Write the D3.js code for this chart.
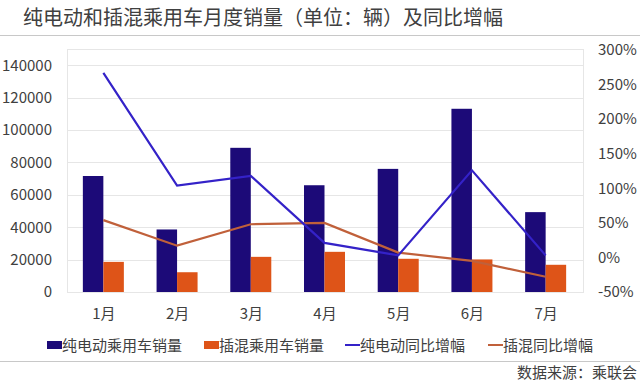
<!DOCTYPE html>
<html>
<head>
<meta charset="utf-8">
<script src="https://cdn.jsdelivr.net/npm/d3@7"></script>
<style>
  html, body { margin: 0; padding: 0; background: #fff; }
  text { font-family: "Noto Sans CJK SC", "Noto Sans", sans-serif; fill: #404040; }
</style>
</head>
<body>
<div id="chart"></div>
<script>
const months = ['1月', '2月', '3月', '4月', '5月', '6月', '7月'];
const evSales = [71600, 38600, 89000, 65900, 76000, 113100, 49300];
const phevSales = [18600, 12200, 21700, 24800, 20500, 20100, 16800];
const evGrowth = [267, 104, 118, 21, 3, 126, 3];
const phevGrowth = [54, 17, 48, 50, 7, -5, -28];
const leftTicks = [0, 20000, 40000, 60000, 80000, 100000, 120000, 140000];
const rightTicks = [-50, 0, 50, 100, 150, 200, 250, 300];
const seriesNames = ['纯电动乘用车销量', '插混乘用车销量', '纯电动同比增幅', '插混同比增幅'];

const AREA_WIDTH = 640;
const AREA_HEIGHT = 383;
const PLOT = { LEFT: 67, RIGHT: 583, TOP: 49, BOTTOM: 292 };
const NAVY = '#1c0a78';
const ORANGE = '#de5418';
const NAVY_LINE = '#3422c8';
const ORANGE_LINE = '#c0603a';

const svg = d3.select('#chart')
              .append('svg')
              .attr('width', AREA_WIDTH)
              .attr('height', AREA_HEIGHT);

// title + separators
svg.append('text')
     .attr('x', 263)
     .attr('y', 25)
     .style('text-anchor', 'middle')
     .style('font-size', '20px')
     .text('纯电动和插混乘用车月度销量（单位：辆）及同比增幅');
svg.append('line')
     .attr('x1', 0).attr('x2', AREA_WIDTH)
     .attr('y1', 35.5).attr('y2', 35.5)
     .attr('stroke', '#c8c8c8');
svg.append('line')
     .attr('x1', 0).attr('x2', AREA_WIDTH)
     .attr('y1', 361.5).attr('y2', 361.5)
     .attr('stroke', '#c8c8c8');
svg.append('text')
     .attr('x', 637)
     .attr('y', 378)
     .style('text-anchor', 'end')
     .style('font-size', '15px')
     .text('数据来源：乘联会');

const x = d3.scaleBand()
              .domain(months)
              .range([PLOT.LEFT, PLOT.RIGHT]);
const y = d3.scaleLinear()
              .domain([0, 150000])
              .range([PLOT.BOTTOM, PLOT.TOP]);
const y2 = d3.scaleLinear()
               .domain([-50, 300])
               .range([PLOT.BOTTOM, PLOT.TOP + 1]);

// plot frame and gridlines
svg.append('rect')
     .attr('x', PLOT.LEFT + 0.5)
     .attr('y', PLOT.TOP + 0.5)
     .attr('width', PLOT.RIGHT - PLOT.LEFT)
     .attr('height', PLOT.BOTTOM - PLOT.TOP)
     .attr('fill', 'none')
     .attr('stroke', '#e6e6e6');
svg.append('g')
     .selectAll('line')
     .data(leftTicks)
     .enter()
     .append('line')
     .attr('x1', PLOT.LEFT)
     .attr('x2', PLOT.RIGHT)
     .attr('y1', d => Math.round(y(d)) + 0.5)
     .attr('y2', d => Math.round(y(d)) + 0.5)
     .attr('stroke', '#e6e6e6');

// axes
const leftAxis = svg.append('g')
                      .attr('transform', `translate(${PLOT.LEFT}, 0)`)
                      .call(d3.axisLeft(y).tickValues(leftTicks).tickSize(0).tickPadding(15)
                              .tickFormat(d3.format('d')));
const rightAxis = svg.append('g')
                       .attr('transform', `translate(${PLOT.RIGHT}, 0)`)
                       .call(d3.axisRight(y2).tickValues(rightTicks).tickSize(0).tickPadding(15)
                               .tickFormat(d => d + '%'));
const bottomAxis = svg.append('g')
                        .attr('transform', `translate(0, ${PLOT.BOTTOM})`)
                        .call(d3.axisBottom(x).tickSize(0).tickPadding(16));
[leftAxis, rightAxis, bottomAxis].forEach(a => {
  a.select('.domain').remove();
  a.selectAll('text').style('font-size', '15px').attr('fill', '#404040');
});

// bars
const BAR_W = 20.5;
const bars = svg.append('g');
bars.selectAll('.ev')
      .data(evSales)
      .enter()
      .append('rect')
      .attr('x', (d, i) => x(months[i]) + x.bandwidth() / 2 - BAR_W - 0.5)
      .attr('y', d => y(d))
      .attr('width', BAR_W)
      .attr('height', d => y(0) - y(d))
      .attr('fill', NAVY);
bars.selectAll('.phev')
      .data(phevSales)
      .enter()
      .append('rect')
      .attr('x', (d, i) => x(months[i]) + x.bandwidth() / 2 - 0.5)
      .attr('y', d => y(d))
      .attr('width', BAR_W)
      .attr('height', d => y(0) - y(d))
      .attr('fill', ORANGE);

// growth lines
const line = d3.line()
                 .x((d, i) => x(months[i]) + x.bandwidth() / 2 - 0.5)
                 .y(d => y2(d));
svg.append('path')
     .datum(phevGrowth)
     .attr('d', line)
     .attr('fill', 'none')
     .attr('stroke', ORANGE_LINE)
     .attr('stroke-width', 2.2);
svg.append('path')
     .datum(evGrowth)
     .attr('d', line)
     .attr('fill', 'none')
     .attr('stroke', NAVY_LINE)
     .attr('stroke-width', 2.2);

// legend
const legendX = [47, 204, 345, 488];
const legend = svg.append('g')
                    .selectAll('g')
                    .data(seriesNames)
                    .enter()
                    .append('g')
                    .attr('transform', (d, i) => `translate(${legendX[i]}, 345)`);
legend.filter((d, i) => i < 2)
        .append('rect')
        .attr('x', 0).attr('y', -4)
        .attr('width', 15).attr('height', 8)
        .attr('fill', (d, i) => [NAVY, ORANGE][i]);
legend.filter((d, i) => i >= 2)
        .append('line')
        .attr('x1', 0).attr('x2', 15)
        .attr('y1', 0).attr('y2', 0)
        .attr('stroke-width', 2)
        .attr('stroke', (d, i) => [NAVY_LINE, ORANGE_LINE][i]);
legend.append('text')
        .attr('x', 15)
        .attr('y', 5.5)
        .style('font-size', '15px')
        .text(d => d);
</script>
</body>
</html>
